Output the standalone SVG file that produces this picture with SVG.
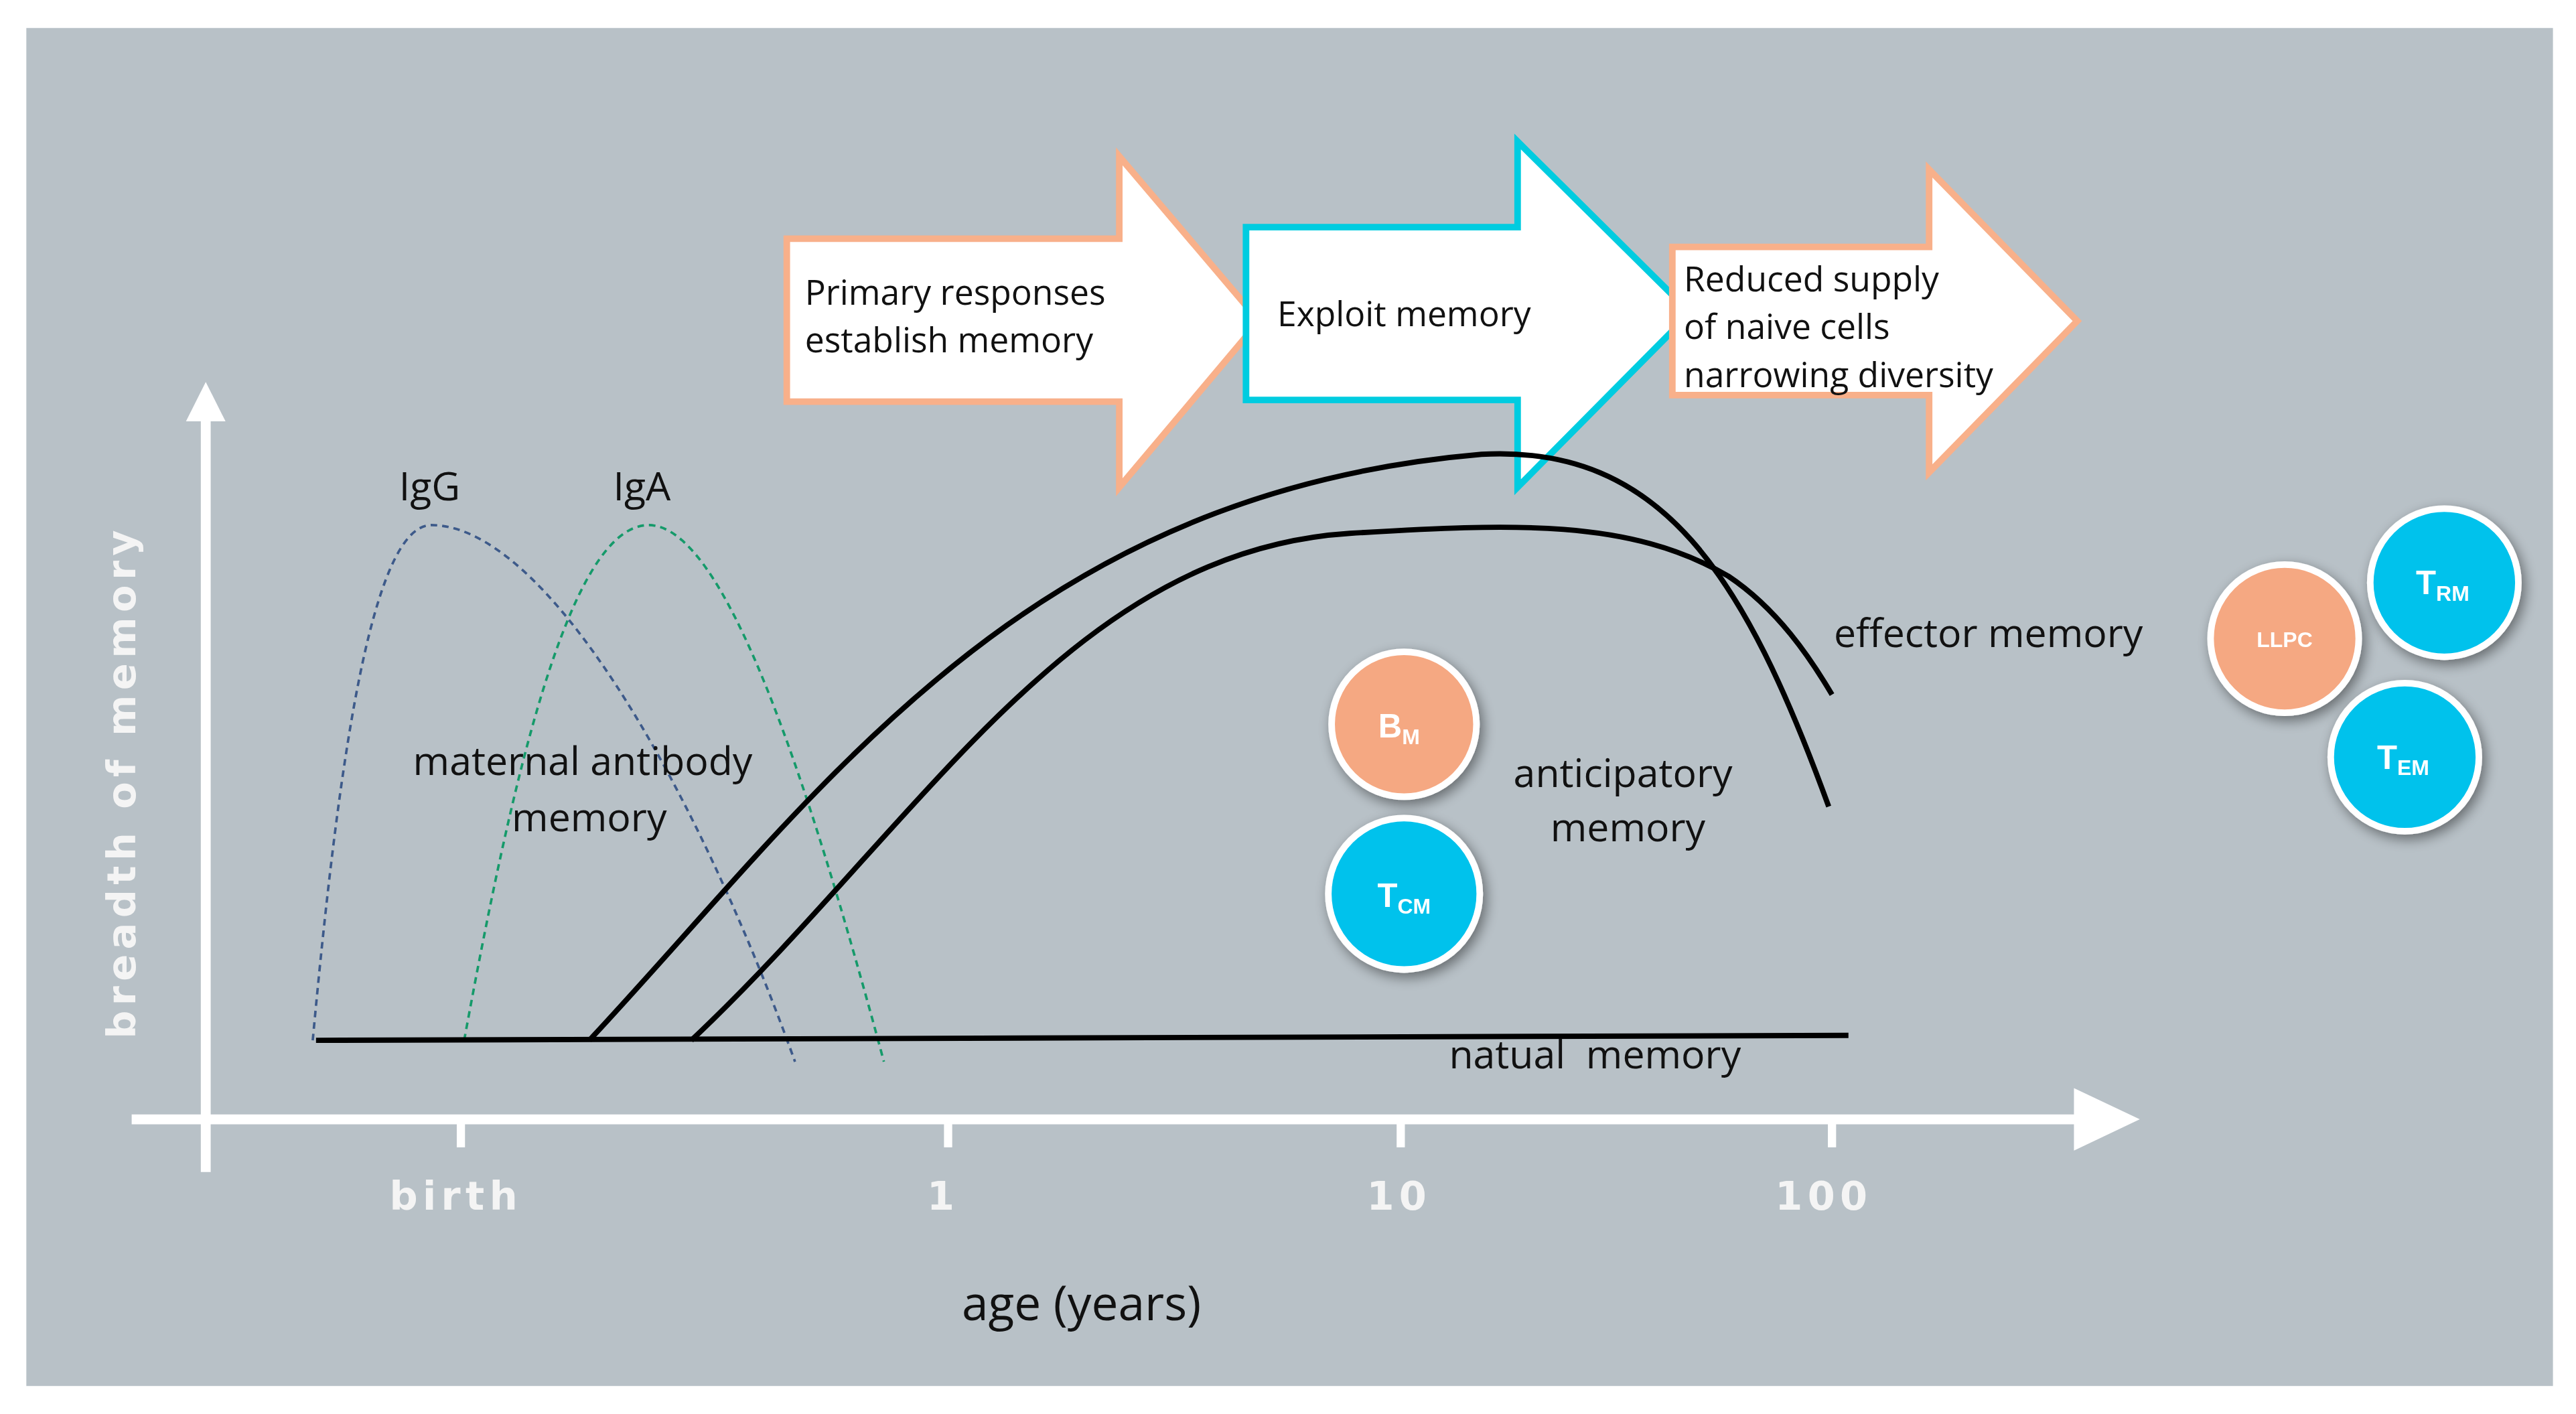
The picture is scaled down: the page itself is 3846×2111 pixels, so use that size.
<svg xmlns="http://www.w3.org/2000/svg" width="3846" height="2111" viewBox="0 0 3846 2111">
<defs>
<style>
.t{font-family:"Open Sans","Liberation Sans",sans-serif;font-size:21px;fill:#111}
.l{font-family:"Open Sans","Liberation Sans",sans-serif;font-size:24px;fill:#111;text-anchor:middle}
.ax{font-family:"DejaVu Sans","Liberation Sans",sans-serif;font-size:24px;font-weight:bold;fill:#f4f4f4;letter-spacing:3px;text-anchor:middle}
.c{font-family:"Liberation Sans",sans-serif;font-weight:bold;fill:#fff;text-anchor:middle}
.curve{fill:none;stroke:#000;stroke-width:3.2}
.o{fill:#f5a882;stroke:#fff;stroke-width:4}
.b{fill:#00c2ec;stroke:#fff;stroke-width:4}
</style>
<filter id="sh" x="-40%" y="-40%" width="180%" height="180%"><feGaussianBlur in="SourceAlpha" stdDeviation="4"/><feOffset dx="2" dy="3"/><feComponentTransfer><feFuncA type="linear" slope="0.45"/></feComponentTransfer><feMerge><feMergeNode/><feMergeNode in="SourceGraphic"/></feMerge></filter>
</defs>
<rect width="3846" height="2111" fill="#fff"/>
<g transform="scale(2.4575)">
<rect x="16" y="17" width="1535" height="825" fill="#b8c1c7"/>
<g id="axes" fill="#fff" stroke="#fff">
<line x1="125" y1="712" x2="125" y2="250" stroke-width="6"/>
<polygon points="125,232 113,256 137,256" stroke="none"/>
<line x1="80" y1="680" x2="1265" y2="680" stroke-width="6"/>
<polygon points="1300,680 1260,661 1260,699" stroke="none"/>
<g stroke-width="5"><line x1="280" y1="680" x2="280" y2="697"/><line x1="576" y1="680" x2="576" y2="697"/><line x1="851" y1="680" x2="851" y2="697"/><line x1="1113" y1="680" x2="1113" y2="697"/></g>
</g>
<text class="ax" x="277" y="735">birth</text>
<text class="ax" x="573" y="735">1</text>
<text class="ax" x="850" y="735">10</text>
<text class="ax" x="1108" y="735">100</text>
<text class="ax" transform="translate(82,475) rotate(-90)">breadth of memory</text>
<text class="l" x="657" y="802" style="font-size:29px">age (years)</text>
<g id="arrow1"><polygon points="478,145 680,145 680,95 765,195 680,296 680,244 478,244" fill="#fff" stroke="#f8b08a" stroke-width="4"/>
<text class="t" x="489" y="185">Primary responses</text><text class="t" x="489" y="214">establish memory</text></g>
<g id="arrow2"><polygon points="757,138 922,138 922,86 1027,190 922,296 922,243 757,243" fill="#fff" stroke="#00cce0" stroke-width="4"/>
<text class="t" x="776" y="198">Exploit memory</text></g>
<g id="arrow3"><polygon points="1016,150 1172,150 1172,103 1262,195 1172,287 1172,240 1016,240" fill="#fff" stroke="#f8b08a" stroke-width="4"/>
<text class="t" x="1023" y="177">Reduced supply</text><text class="t" x="1023" y="206">of naive cells</text><text class="t" x="1023" y="235">narrowing diversity</text></g>
<g id="connectors">
<path d="M190,632 C205,470 225,319 262,319 C330,319 420,470 483,645" fill="none" stroke="#3d5a8a" stroke-width="1.5" stroke-dasharray="4,3"/>
<path d="M282,632 C310,480 345,319 394,319 C440,319 490,470 537,645" fill="none" stroke="#159a6a" stroke-width="1.5" stroke-dasharray="4,3"/>
<path class="curve" d="M192,632 L1123,629"/>
<path class="curve" d="M358,632 C500,480 620,300 900,276 C1010,270 1060,350 1111,490"/>
<path class="curve" d="M420,632 C560,500 650,335 820,324 C920,318 990,315 1050,350 C1080,370 1100,400 1113,422"/>
</g>
<text class="l" x="261" y="304">IgG</text>
<text class="l" x="390" y="304">IgA</text>
<text class="l" x="354" y="471">maternal antibody</text>
<text class="l" x="358" y="505">memory</text>
<text class="l" x="1208" y="393">effector memory</text>
<text class="l" x="986" y="478">anticipatory</text>
<text class="l" x="989" y="511">memory</text>
<text class="l" x="969" y="649" xml:space="preserve">natual  memory</text>
<g id="BM" filter="url(#sh)"><circle class="o" cx="853" cy="440" r="44"/><text class="c" x="850" y="448" font-size="20">B<tspan font-size="13" dy="4">M</tspan></text></g>
<g id="TCM" filter="url(#sh)"><circle class="b" cx="853" cy="543" r="46"/><text class="c" x="853" y="551" font-size="20">T<tspan font-size="13" dy="4">CM</tspan></text></g>
<g id="LLPC" filter="url(#sh)"><circle class="o" cx="1388" cy="388" r="45"/><text class="c" x="1388" y="393" font-size="13">LLPC</text></g>
<g id="TRM" filter="url(#sh)"><circle class="b" cx="1485" cy="354" r="45"/><text class="c" x="1484" y="361" font-size="20">T<tspan font-size="13" dy="4">RM</tspan></text></g>
<g id="TEM" filter="url(#sh)"><circle class="b" cx="1461" cy="460" r="45"/><text class="c" x="1460" y="467" font-size="20">T<tspan font-size="13" dy="4">EM</tspan></text></g>
</g>
</svg>
